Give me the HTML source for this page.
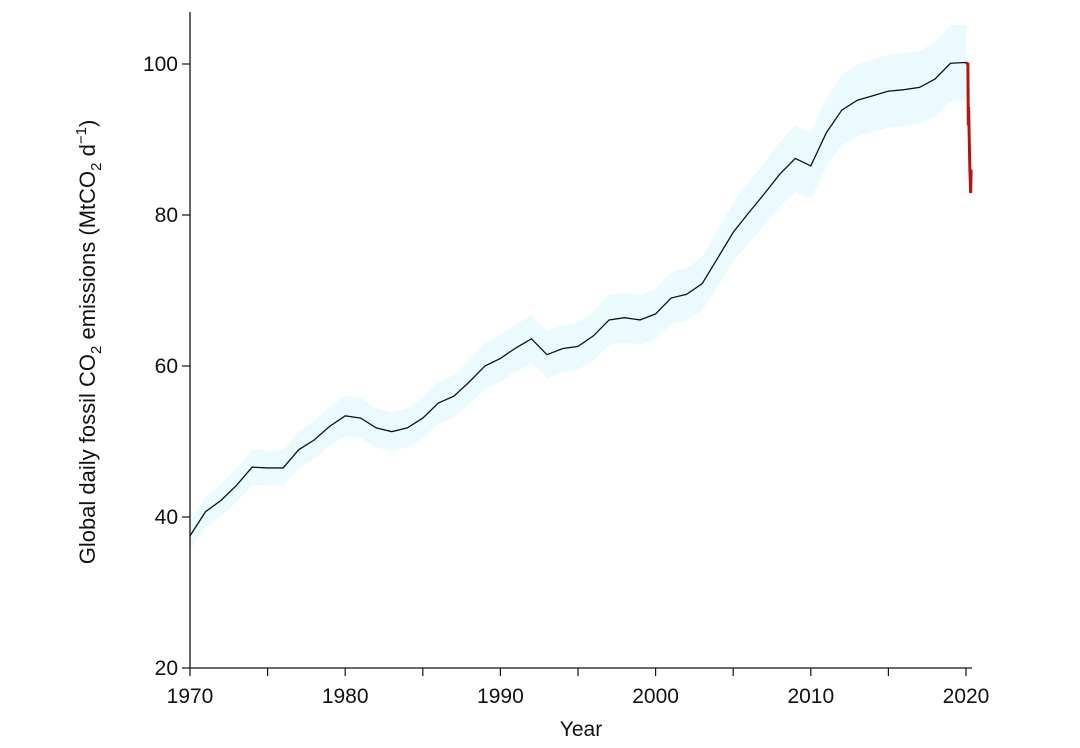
<!DOCTYPE html>
<html><head><meta charset="utf-8">
<style>
html,body{margin:0;padding:0;background:#fff;}
svg{display:block;font-family:"Liberation Sans",Arial,sans-serif;}
</style></head>
<body>
<svg id="chart" width="1080" height="748" viewBox="0 0 1080 748" xmlns="http://www.w3.org/2000/svg">
  <g id="band"></g>
  <g id="lines"></g>
  <g id="axes"></g>
  <text x="581" y="736" font-size="21" text-anchor="middle" fill="#111">Year</text>
  <text transform="translate(95,342) rotate(-90)" font-size="22" text-anchor="middle" fill="#111">Global daily fossil CO<tspan font-size="15" dy="6">2</tspan><tspan dy="-6"> emissions (MtCO</tspan><tspan font-size="15" dy="6">2</tspan><tspan dy="-6"> d</tspan><tspan font-size="15" dy="-9">−1</tspan><tspan dy="9">)</tspan></text>
</svg>
<script>
const years = [1970,1971,1972,1973,1974,1975,1976,1977,1978,1979,1980,1981,1982,1983,1984,1985,1986,1987,1988,1989,1990,1991,1992,1993,1994,1995,1996,1997,1998,1999,2000,2001,2002,2003,2004,2005,2006,2007,2008,2009,2010,2011,2012,2013,2014,2015,2016,2017,2018,2019,2020];
const emissions = [37.5,40.7,42.2,44.2,46.6,46.5,46.5,48.9,50.2,52.0,53.4,53.1,51.8,51.3,51.8,53.1,55.1,56.0,57.9,60.0,61.0,62.4,63.6,61.5,62.3,62.6,64.0,66.1,66.4,66.1,66.9,69.0,69.5,70.9,74.3,77.7,80.3,82.8,85.4,87.5,86.5,90.9,93.9,95.2,95.8,96.4,96.6,96.9,98.0,100.1,100.2];
const bandPct = 0.05;
const dailyT = [2020.0,2020.12,2020.15,2020.17,2020.19,2020.25,2020.3,2020.33];
const dailyV = [100.2,100.0,91.9,94.3,92.0,86.0,82.9,86.0];
const yTicks = [20,40,60,80,100];
const xTicks = [1970,1980,1990,2000,2010,2020];
const xMinor = [1975,1985,1995,2005,2015];

const X0=190, X1=966, Y0=668, Y1=64;
const xs = v => X0 + (v-1970)*(X1-X0)/50;
const ys = v => Y0 - (v-20)*(Y0-Y1)/80;
const NS="http://www.w3.org/2000/svg";
function mk(tag, parent, attrs){const e=document.createElementNS(NS,tag);for(const k in attrs)e.setAttribute(k,attrs[k]);parent.appendChild(e);return e;}

const band=document.getElementById('band');
let up=years.map((y,i)=>xs(y)+','+ys(emissions[i]*(1+bandPct)));
let lo=years.map((y,i)=>xs(y)+','+ys(emissions[i]*(1-bandPct))).reverse();
const poly=mk('polygon',band,{points:up.concat(lo).join(' '),fill:'#eafafe'});



const lines=document.getElementById('lines');
const l1=mk('polyline',lines,{points:years.map((y,i)=>xs(y)+','+ys(emissions[i])).join(' '),fill:'none',stroke:'#111','stroke-width':1.3});


const l2=mk('polyline',lines,{points:dailyT.map((t,i)=>xs(t)+','+ys(dailyV[i])).join(' '),fill:'none',stroke:'#b41414','stroke-width':3});



const ax=document.getElementById('axes');
mk('line',ax,{x1:X0,y1:12,x2:X0,y2:Y0,stroke:'#111','stroke-width':1.3});
mk('line',ax,{x1:X0,y1:Y0,x2:972,y2:Y0,stroke:'#111','stroke-width':1.3});
yTicks.forEach(v=>{
  mk('line',ax,{x1:X0-8,y1:ys(v),x2:X0,y2:ys(v),stroke:'#111','stroke-width':1.2});
  const t=mk('text',ax,{x:X0-12,y:ys(v)+7,'font-size':21,'text-anchor':'end',fill:'#111'});
  t.textContent=v;
  
  
});
xTicks.concat(xMinor).forEach(v=>{
  mk('line',ax,{x1:xs(v),y1:Y0,x2:xs(v),y2:Y0+8,stroke:'#111','stroke-width':1.2});
});
xTicks.forEach(v=>{
  const t=mk('text',ax,{x:xs(v),y:Y0+35,'font-size':21,'text-anchor':'middle',fill:'#111'});
  t.textContent=v;
  
  
});
</script>
</body></html>
